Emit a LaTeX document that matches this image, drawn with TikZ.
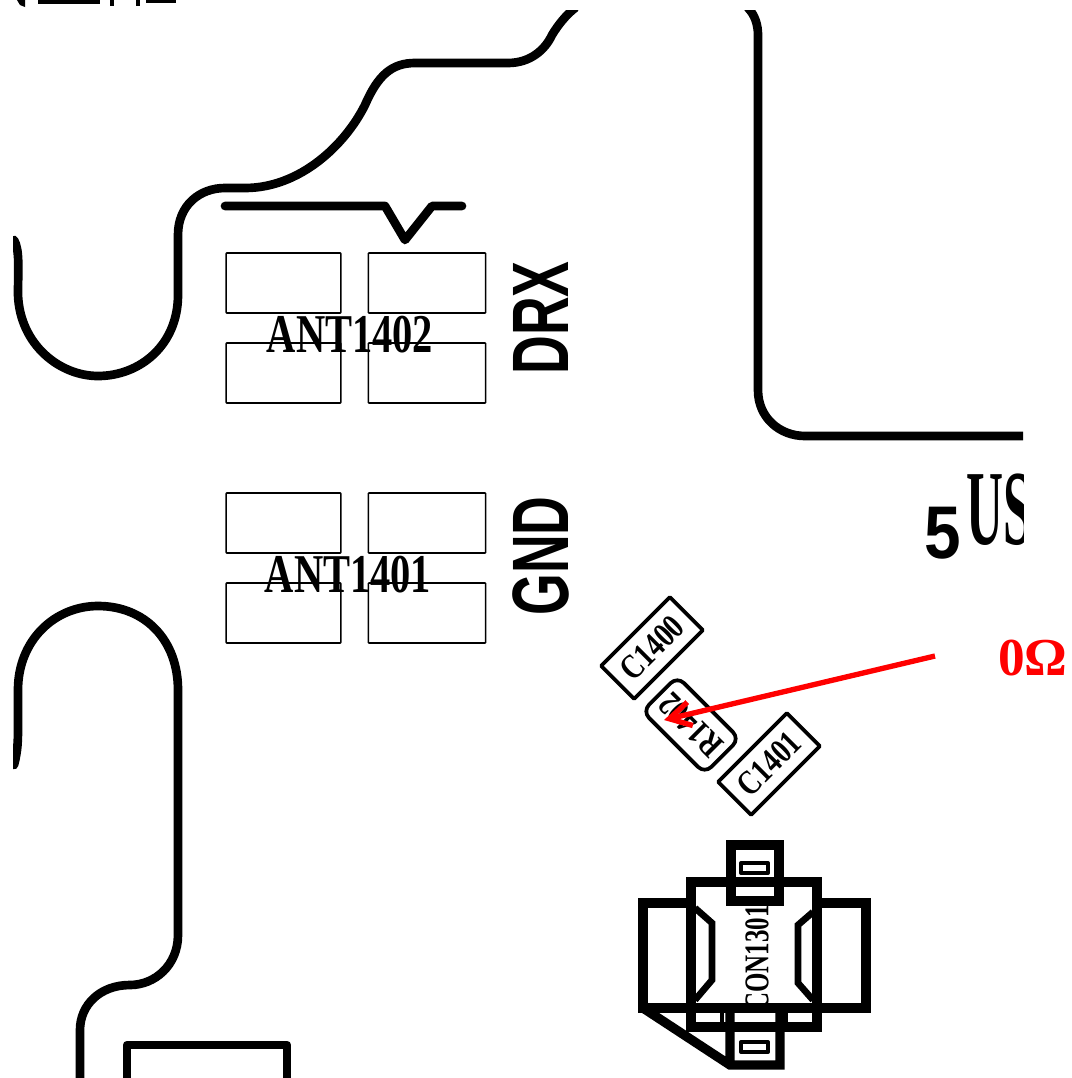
\documentclass[tikz,border=0pt]{standalone}
\usepackage{fontspec}
\usepackage{xcolor}
\setmainfont{Liberation Serif}
\newfontfamily\silkfont{Liberation Sans}
\usetikzlibrary{positioning,arrows.meta}

\begin{document}
\begin{tikzpicture}[x=0.75pt,y=-0.75pt,line join=round]
          \tikzstyle{outline}=[draw=black,line width=6.5pt,line cap=round]
          \tikzstyle{body}=[draw=black,line width=7pt,line join=miter]
          \tikzstyle{pad}=[draw=black,line width=1.2pt,minimum height=45pt,inner sep=0pt,rounded corners=0.5pt]
          \tikzstyle{part}=[draw=black,line width=2.8pt,fill=white,inner sep=0pt,minimum width=73pt,minimum height=35pt]
          \tikzstyle{reftext}=[inner sep=0pt,text=black,transform shape]
          \tikzstyle{bigref}=[reftext,font=\fontsize{41}{41}\selectfont\bfseries,xscale=0.74]
          \tikzstyle{silk}=[reftext,font=\silkfont\fontsize{60}{60}\selectfont\bfseries,rotate=90,xscale=0.67]
          \tikzstyle{smallref}=[reftext,font=\fontsize{26}{26}\selectfont\bfseries,xscale=0.8]
          \useasboundingbox[fill=white] (0,0) rectangle (1071,1078);
          % cut off text on the top edge
          \fill (17,0) -- (25,0) -- (25,7) -- (20,5) -- cycle;
          \fill (38,0) rectangle (100,4);
          \fill (110,0) rectangle (114,6);
          \fill (136,0) rectangle (140,6);
          \fill (146,0) rectangle (176,3);
          \begin{scope}
          \clip (13,10) rectangle (1023,1078);
          % board outline
          \draw[outline] (14,240) .. controls (20,250) and (18,270) .. (18,295)
            .. controls (20,345) and (60,376) .. (98,376)
            .. controls (140,376) and (178,345) .. (178,295) -- (178,235)
            .. controls (178,205) and (200,188) .. (225,188) -- (245,188)
            .. controls (300,188) and (345,145) .. (365,105)
            .. controls (378,75) and (392,63) .. (415,63) -- (508,63)
            .. controls (530,63) and (545,50) .. (552,35)
            .. controls (558,25) and (566,15) .. (575,8);
          \draw[outline] (748,8) .. controls (755,15) and (758,25) .. (758,35) -- (758,390)
            .. controls (758,418) and (780,436) .. (805,436) -- (1030,436);
          \draw[outline] (14,765) .. controls (18,750) and (18,740) .. (18,725) -- (18,690)
            .. controls (18,640) and (55,606) .. (98,606)
            .. controls (145,606) and (178,640) .. (178,690) -- (178,935)
            .. controls (178,965) and (155,985) .. (130,985)
            .. controls (100,985) and (80,1005) .. (80,1030) -- (80,1085);
          \draw[outline] (127,1085) -- (127,1045) -- (287,1045) -- (287,1085);
          \draw[outline] (225,206) -- (385,206) -- (405,240) -- (432,206) -- (462,206);
          % antenna pads
          \node[pad,minimum width=86pt] (P1) at (283.5,283) {};
          \node[pad,minimum width=88pt] (P2) at (427,283) {};
          \node[pad,minimum width=86pt] (P3) at (283.5,373) {};
          \node[pad,minimum width=88pt] (P4) at (427,373) {};
          \node[pad,minimum width=86pt] (P5) at (283.5,523) {};
          \node[pad,minimum width=88pt] (P6) at (427,523) {};
          \node[pad,minimum width=86pt] (P7) at (283.5,613) {};
          \node[pad,minimum width=88pt] (P8) at (427,613) {};
          \node[bigref] (ANT1402) at (350,335) {ANT1402};
          \node[bigref] (ANT1401) at (348,575) {ANT1401};
          \node[silk] (DRX) at (541,318) {DRX};
          \node[silk] (GND) at (541,556) {GND};
          \node[reftext,font=\silkfont\fontsize{56}{56}\selectfont\bfseries,xscale=0.88] (five) at (943,533) {5};
          \node[reftext,font=\fontsize{80}{80}\selectfont\bfseries,xscale=0.48,anchor=west] (US) at (966,510) {US};
          % small parts
          \node[part,rotate=45] (C1400) at (652,648) {};
          \node[rotate=45,smallref] (C1400t) at (C1400) {C1400};
          \node[part,rotate=45] (C1401) at (769,764) {};
          \node[rotate=45,smallref] (C1401t) at (C1401) {C1401};
          \node[part,rotate=135,minimum width=66pt,minimum height=37pt,rounded corners=7pt] (R1402) at (691,725) {};
          \node[rotate=135,smallref] (R1402t) at (R1402) {R1402};
          % connector
          \node[rotate=90,smallref,xscale=0.9] (CON1301) at (757,958) {CON1301};
          \draw[body] (691,882) rectangle (817,1027);
          \draw[body] (691,903) -- (643,903) -- (643,1008) -- (866,1008) -- (866,903) -- (817,903);
          \draw[body] (643,1008) -- (730,1065) -- (780,1065) -- (780,1008) -- (730,1008) -- (730,1065);
          \draw[body] (731,845) rectangle (779,901);
          \draw[body,line width=5pt] (695,908) -- (712,923) -- (712,980) -- (695,1000);
          \draw[body,line width=5pt] (813,912) -- (798,925) -- (798,983) -- (813,1000);
          \draw[body,line width=3pt] (722,1008) -- (722,1027);
          \draw[body,line width=3pt] (786,1008) -- (786,1027);
          \draw[black,line width=3pt] (741,863) rectangle (768,873);
          \draw[black,line width=3pt] (741,1042) rectangle (768,1052);
          \end{scope}
          % callout
          \node[inner sep=0pt,text=red,font=\fontsize{40}{40}\selectfont\bfseries] (zero) at (1033,658) {0Ω};
          \coordinate (tail) at (935,656);
          \coordinate (tip) at (664,720);
          \path (tail) edge[draw=red,line width=4pt,-{Straight Barb[length=16pt,width=18pt]}] (tip);
\end{tikzpicture}
\end{document}
